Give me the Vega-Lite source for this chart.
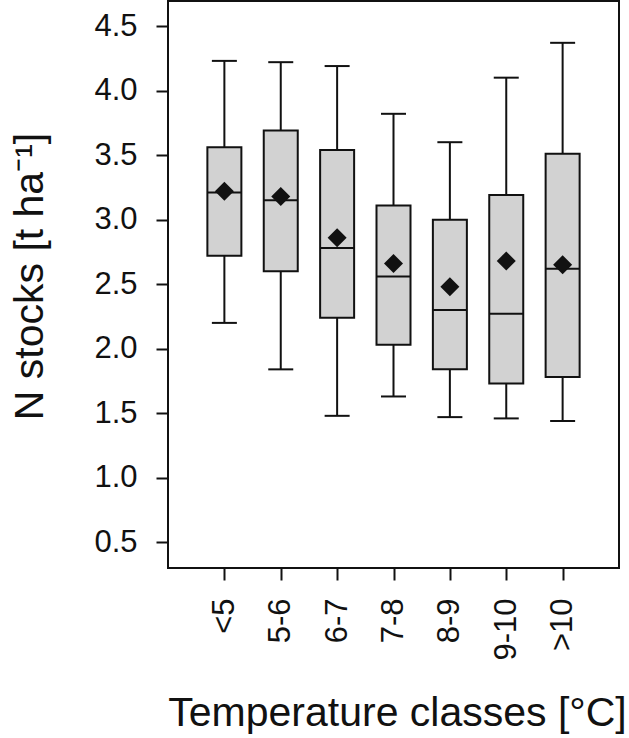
{
  "$schema": "https://vega.github.io/schema/vega-lite/v6.json",
  "autosize": {"type": "none"},
  "width": 451,
  "height": 567,
  "padding": {"left": 168, "top": 1, "right": 10, "bottom": 170},
  "background": "white",
  "config": {
    "font": "Liberation Sans",
    "view": {"stroke": "#111111", "strokeWidth": 2},
    "axis": {"grid": false, "domain": false, "tickColor": "#111111", "tickWidth": 2, "tickSize": 12, "labelColor": "#111111", "titleColor": "#111111", "labelFont": "Liberation Sans", "titleFont": "Liberation Sans", "titleFontWeight": "normal"}
  },
  "data": {
    "values": [
      {"cls": "<5", "lo": 2.20, "q1": 2.72, "med": 3.21, "q3": 3.56, "hi": 4.23, "mean": 3.22},
      {"cls": "5-6", "lo": 1.84, "q1": 2.60, "med": 3.15, "q3": 3.69, "hi": 4.22, "mean": 3.18},
      {"cls": "6-7", "lo": 1.48, "q1": 2.24, "med": 2.78, "q3": 3.54, "hi": 4.19, "mean": 2.86},
      {"cls": "7-8", "lo": 1.63, "q1": 2.03, "med": 2.56, "q3": 3.11, "hi": 3.82, "mean": 2.66},
      {"cls": "8-9", "lo": 1.47, "q1": 1.84, "med": 2.30, "q3": 3.00, "hi": 3.60, "mean": 2.48},
      {"cls": "9-10", "lo": 1.46, "q1": 1.73, "med": 2.27, "q3": 3.19, "hi": 4.10, "mean": 2.68},
      {"cls": ">10", "lo": 1.44, "q1": 1.78, "med": 2.62, "q3": 3.51, "hi": 4.37, "mean": 2.65}
    ]
  },
  "encoding": {
    "x": {
      "field": "cls", "type": "nominal", "sort": null,
      "scale": {"type": "point", "padding": 1},
      "axis": {"title": "Temperature classes [°C]", "labelAngle": -90, "labelAlign": "right", "labelBaseline": "middle", "labelFontSize": 31, "labelPadding": 18, "titleFontSize": 41, "titleX": 229, "titleY": 157, "titleBaseline": "alphabetic", "titleAnchor": "middle"}
    }
  },
  "layer": [
    {
      "mark": {"type": "rule", "color": "#111111", "strokeWidth": 2},
      "encoding": {
        "y": {"field": "lo", "type": "quantitative", "scale": {"domain": [0.301, 4.694], "nice": false, "zero": false},
          "axis": {"title": "N stocks [t ha⁻¹]", "values": [0.5, 1, 1.5, 2, 2.5, 3, 3.5, 4, 4.5], "format": ".1f", "labelFontSize": 31, "labelPadding": 19, "titleFontSize": 41, "titleAngle": -90, "titleX": -126, "titleY": 275, "titleAlign": "center", "titleBaseline": "alphabetic"}},
        "y2": {"field": "hi"}
      }
    },
    {
      "mark": {"type": "bar", "size": 34, "fill": "#d2d2d2", "stroke": "#111111", "strokeWidth": 2},
      "encoding": {"y": {"field": "q1", "type": "quantitative"}, "y2": {"field": "q3"}}
    },
    {
      "mark": {"type": "tick", "orient": "horizontal", "size": 34, "thickness": 2, "color": "#111111", "opacity": 1},
      "encoding": {"y": {"field": "med", "type": "quantitative"}}
    },
    {
      "mark": {"type": "tick", "orient": "horizontal", "size": 25, "thickness": 2, "color": "#111111", "opacity": 1},
      "encoding": {"y": {"field": "hi", "type": "quantitative"}}
    },
    {
      "mark": {"type": "tick", "orient": "horizontal", "size": 25, "thickness": 2, "color": "#111111", "opacity": 1},
      "encoding": {"y": {"field": "lo", "type": "quantitative"}}
    },
    {
      "mark": {"type": "point", "shape": "diamond", "size": 360, "filled": true, "color": "#111111", "opacity": 1},
      "encoding": {"y": {"field": "mean", "type": "quantitative"}}
    }
  ]
}
